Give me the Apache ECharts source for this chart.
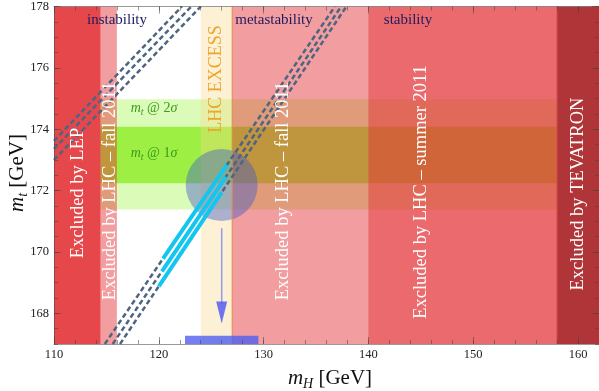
<!DOCTYPE html>
<html><head><meta charset="utf-8">
<script src="https://cdn.jsdelivr.net/npm/echarts@6/dist/echarts.min.js"></script>
<style>html,body{margin:0;padding:0;background:#fff}#c{width:599px;height:391px}</style>
</head><body><div id="c"></div>
<script>
// ---------- data ----------
const xRange = [110, 162];
const yRange = [167, 178];
const xMajorTicks = [110, 120, 130, 140, 150, 160];
const yMajorTicks = [168, 170, 172, 174, 176, 178];
const greenXRange = [110, 158];
const mt2SigmaBand = [171.38, 174.98];
const mt1SigmaBand = [172.24, 174.08];
const lhcExcessBand = [124.0, 127.0];
const lhcFall2011Bands = [[114.45, 116.0], [127.0, 162]];
const lhcSummer2011Band = [140.0, 162];
const tevatronBand = [158.0, 162];
const lepBand = [110, 114.45];
const excessEdgeX = 127.0;
const instabilityLines = [
  [[110, 173.62], [122.2, 178]],
  [[110, 173.36], [123.1, 178]],
  [[110, 173.00], [124.0, 178]]
];
const metastabilityLines = [
  [[114.85, 167], [136.8, 178]],
  [[115.6, 167], [137.4, 178]],
  [[116.3, 167], [137.9, 178]]
];
const cyanSegments = [
  [[120.4, 169.78], [126.5, 172.84]],
  [[120.3, 169.37], [126.4, 172.45]],
  [[120.0, 168.88], [126.0, 171.94]]
];
const higgsBlob = [126.0, 172.18];
const arrowShaft = [[126.0, 170.77], [126.0, 168.3]];
const arrowHead = [126.0, 168.03];
const higgsMassBar = [122.5, 129.5, 167.0, 167.27];

// ---------- styling ----------
const SERIF = '"Liberation Serif", "Times New Roman", serif';
const axisCol = 'rgba(70,70,70,0.55)';

function band(xr, yr) { return [xr[0], xr[1], yr[0], yr[1]]; }

function rectSeries(rects, fill, z) {
  return {
    type: 'custom', z: z, silent: true, clip: true,
    data: rects,
    encode: { x: [0, 1], y: [2, 3] },
    renderItem: function (params, api) {
      const p0 = api.coord([api.value(0), api.value(3)]);
      const p1 = api.coord([api.value(1), api.value(2)]);
      return { type: 'rect', shape: { x: p0[0], y: p0[1], width: p1[0] - p0[0], height: p1[1] - p0[1] },
               style: { fill: fill } };
    }
  };
}
function lineSeries(pts, color, width, type, z) {
  return { type: 'line', z: z, silent: true, data: pts, showSymbol: false, symbol: 'none',
           lineStyle: { color: color, width: width, type: type, cap: 'butt' }, animation: false };
}

const series = [];
series.push(rectSeries([band(greenXRange, mt2SigmaBand)], '#dbfbb9', 1));
series.push(rectSeries([band(greenXRange, mt1SigmaBand)], '#9df043', 2));
series.push(rectSeries([band(lhcExcessBand, yRange)], 'rgba(249,215,138,0.36)', 3));
series.push(rectSeries(lhcFall2011Bands.map(b => band(b, yRange)), 'rgba(228,51,55,0.48)', 4));
series.push(rectSeries([band(lhcSummer2011Band, yRange)], 'rgba(228,51,55,0.48)', 5));
series.push(rectSeries([band(tevatronBand, yRange)], '#b03538', 6));
series.push(rectSeries([band(lepBand, yRange)], '#e5474b', 7));
series.push({ type: 'scatter', z: 8, silent: true, data: [higgsBlob], symbol: 'circle', symbolSize: 72,
              itemStyle: { color: 'rgba(70,90,200,0.55)' } });
series.push(lineSeries([[excessEdgeX, yRange[0]], [excessEdgeX, yRange[1]]], '#e58a4a', 1, 'solid', 9));
series.push(lineSeries([[tevatronBand[0], yRange[0]], [tevatronBand[0], yRange[1]]], '#d2484b', 1, 'solid', 9));
instabilityLines.concat(metastabilityLines).forEach(l => series.push(lineSeries(l, '#4d6580', 2.5, [5, 3], 10)));
cyanSegments.forEach(l => series.push(lineSeries(l, '#12c6f0', 4, 'solid', 11)));
series.push(lineSeries(arrowShaft, '#939be8', 1.5, 'solid', 12));
series.push({ type: 'scatter', z: 12, silent: true, data: [arrowHead], symbol: 'triangle', symbolSize: [11, 22],
              symbolRotate: 180, itemStyle: { color: '#4a55f0' } });
series.push(rectSeries([higgsMassBar], 'rgba(80,95,240,0.8)', 13));

function xAx(pos, major) {
  return {
    type: 'value', position: pos, min: xRange[0], max: xRange[1], interval: 2, z: 50,
    axisLine: { show: !major, onZero: false, lineStyle: { color: axisCol, width: 1 } },
    axisTick: major ? { show: true, inside: true, length: 7, customValues: xMajorTicks, lineStyle: { color: axisCol } }
                    : { show: true, inside: true, length: 4, lineStyle: { color: axisCol } },
    axisLabel: (pos === 'bottom' && !major) ? {
      show: true, margin: 4, fontFamily: SERIF, fontSize: 12.5, color: '#222', showMaxLabel: false,
      formatter: v => (Math.abs(v % 10) < 1e-6 ? String(v) : '')
    } : { show: false },
    splitLine: { show: false }
  };
}
function yAx(pos, major) {
  return {
    type: 'value', position: pos, min: yRange[0], max: yRange[1], interval: 0.5, z: 50,
    axisLine: { show: !major, onZero: false, lineStyle: { color: axisCol, width: 1 } },
    axisTick: major ? { show: true, inside: true, length: 7, customValues: yMajorTicks, lineStyle: { color: axisCol } }
                    : { show: true, inside: true, length: 4, lineStyle: { color: axisCol } },
    axisLabel: (pos === 'left' && !major) ? {
      show: true, margin: 5, fontFamily: SERIF, fontSize: 12.5, color: '#222',
      formatter: v => (Math.abs(v % 2) < 1e-6 ? String(v) : '')
    } : { show: false },
    splitLine: { show: false }
  };
}

// ---------- text ----------
const mctx = document.createElement('canvas').getContext('2d');
function fontStr(size, italic) { return (italic ? 'italic ' : '') + size + 'px ' + SERIF; }
function mathLabel(parts, size, color, cx, cy, rotate) {
  let x = 0; const children = [];
  parts.forEach(([t, it, sub]) => {
    const fs = sub ? Math.round(size * 0.68) : size;
    const f = fontStr(fs, it);
    mctx.font = f;
    const w = mctx.measureText(t).width;
    children.push({ type: 'text', x: x, y: sub ? size * 0.3 : 0, z: 100,
                    style: { text: t, font: f, fill: color, align: 'left', verticalAlign: 'middle' } });
    x += w;
  });
  children.forEach(c => { c.x -= x / 2; });
  return { type: 'group', x: cx, y: cy, rotation: rotate ? Math.PI / 2 : 0, z: 100, children: children };
}
function vText(t, cx, cy, size, color) {
  return { type: 'text', x: cx, y: cy, rotation: Math.PI / 2, z: 100,
           style: { text: t, font: fontStr(size, false), fill: color, align: 'center', verticalAlign: 'middle' } };
}
function hText(t, cx, cy, size, color) {
  return { type: 'text', x: cx, y: cy, z: 100,
           style: { text: t, font: fontStr(size, false), fill: color, align: 'center', verticalAlign: 'middle' } };
}
const navy = '#1d1b5e', green = '#3c9a1c';
const graphic = [
  hText('instability', 117, 20, 15, navy),
  hText('metastability', 274, 20, 15, navy),
  hText('stability', 408, 20, 15, navy),
  vText('Excluded by LEP', 78, 193, 18.5, '#ffffff'),
  vText('Excluded by LHC \u2013 fall 2011', 110, 191, 18.5, '#ffffff'),
  vText('LHC EXCESS', 216, 79, 18, '#eda52c'),
  vText('Excluded by LHC \u2013 fall 2011', 283, 191, 18.5, '#ffffff'),
  vText('Excluded by LHC \u2013 summer 2011', 421, 192, 18.5, '#ffffff'),
  vText('Excluded by TEVATRON', 578, 194, 18.5, '#ffffff'),
  mathLabel([['m', true], ['t', true, true], [' @ 2', false], ['\u03c3', true]], 14, green, 154, 108, false),
  mathLabel([['m', true], ['t', true, true], [' @ 1', false], ['\u03c3', true]], 14, green, 154, 153, false),
  mathLabel([['m', true], ['H', true, true], [' [GeV]', false]], 21, '#111', 330, 378, false),
  mathLabel([['m', true], ['t', true, true], [' [GeV]', false]], 21, '#111', 17, 173, true)
];

const chart = echarts.init(document.getElementById('c'), null, { renderer: 'canvas', width: 599, height: 391 });
chart.setOption({
  animation: false,
  backgroundColor: '#ffffff',
  grid: { left: 54, right: 0, top: 5, bottom: 47, containLabel: false },
  xAxis: [xAx('bottom', false), xAx('bottom', true), xAx('top', false), xAx('top', true)],
  yAxis: [yAx('left', false), yAx('left', true), yAx('right', false), yAx('right', true)],
  series: series,
  graphic: graphic
});
</script></body></html>
